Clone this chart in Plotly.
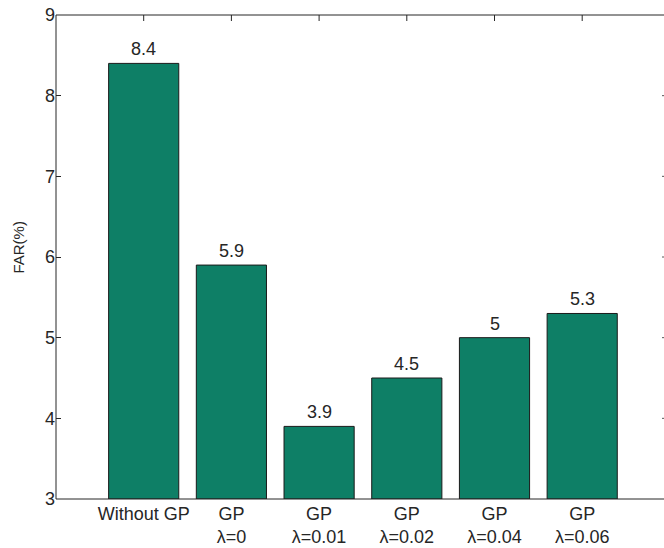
import plotly.graph_objects as go

# Category labels, bar values and axis ticks
categories = ["Without GP", "GP<br>λ=0", "GP<br>λ=0.01", "GP<br>λ=0.02", "GP<br>λ=0.04", "GP<br>λ=0.06"]
far_values = [8.4, 5.9, 3.9, 4.5, 5.0, 5.3]
value_labels = ["8.4", "5.9", "3.9", "4.5", "5", "5.3"]
y_ticks = [3, 4, 5, 6, 7, 8, 9]

positions = list(range(1, len(categories) + 1))

BAR_COLOR = "#0e7f66"
INK = "#262626"
FONT = "Liberation Sans, Arial, Helvetica, sans-serif"

fig = go.Figure()
fig.add_trace(go.Bar(
    x=positions,
    y=[v - 3 for v in far_values],
    base=3,
    width=0.8,
    marker=dict(color=BAR_COLOR, line=dict(color="#1a1a1a", width=1)),
    hoverinfo="skip",
))

# value labels above bars
for xp, v, t in zip(positions, far_values, value_labels):
    fig.add_annotation(x=xp, y=v, text=t, showarrow=False, yanchor="bottom",
                       yshift=2, font=dict(size=18, color=INK, family=FONT))

# y-axis title
fig.add_annotation(x=-0.062, y=0.52, xref="paper", yref="paper", text="FAR(%)",
                   textangle=-90, showarrow=False, xanchor="center", yanchor="middle",
                   font=dict(size=15, color=INK, family=FONT))

shapes = []
# axis box lines (left, top, bottom)
shapes.append(dict(type="line", xref="paper", yref="paper", x0=0, x1=0, y0=0, y1=1,
                   line=dict(color=INK, width=1)))
shapes.append(dict(type="line", xref="paper", yref="paper", x0=0, x1=1, y0=1, y1=1,
                   line=dict(color=INK, width=1)))
shapes.append(dict(type="line", xref="paper", yref="paper", x0=0, x1=1, y0=0, y1=0,
                   line=dict(color=INK, width=1)))
# mirrored ticks on the top edge at category positions
for xp in positions:
    shapes.append(dict(type="line", xref="x", yref="paper", x0=xp, x1=xp, y0=1, y1=1 - 6 / 484,
                       line=dict(color=INK, width=1)))
# mirrored ticks near the right edge
for yt in y_ticks[1:-1]:
    shapes.append(dict(type="line", xref="paper", yref="y", x0=1 - 2 / 608, x1=1, y0=yt, y1=yt,
                       line=dict(color="#555555", width=1)))

fig.update_layout(
    width=664, height=548,
    margin=dict(l=56, r=0, t=15, b=49),
    paper_bgcolor="white", plot_bgcolor="white",
    showlegend=False,
    shapes=shapes,
    font=dict(family=FONT, color=INK),
    xaxis=dict(
        range=[0, 608 / 87.7], tickvals=positions, ticktext=categories,
        showgrid=False, zeroline=False, showline=False, ticks="",
        ticklabelstandoff=2, automargin=False,
        tickfont=dict(size=18, color=INK, family=FONT),
    ),
    yaxis=dict(
        range=[3, 9], tickvals=y_ticks, ticktext=[str(t) for t in y_ticks],
        showgrid=False, zeroline=False, showline=False, automargin=False,
        ticks="inside", ticklen=5, tickcolor=INK, tickwidth=1,
        tickfont=dict(size=18, color=INK, family=FONT),
    ),
)

fig.write_html("out.html")
